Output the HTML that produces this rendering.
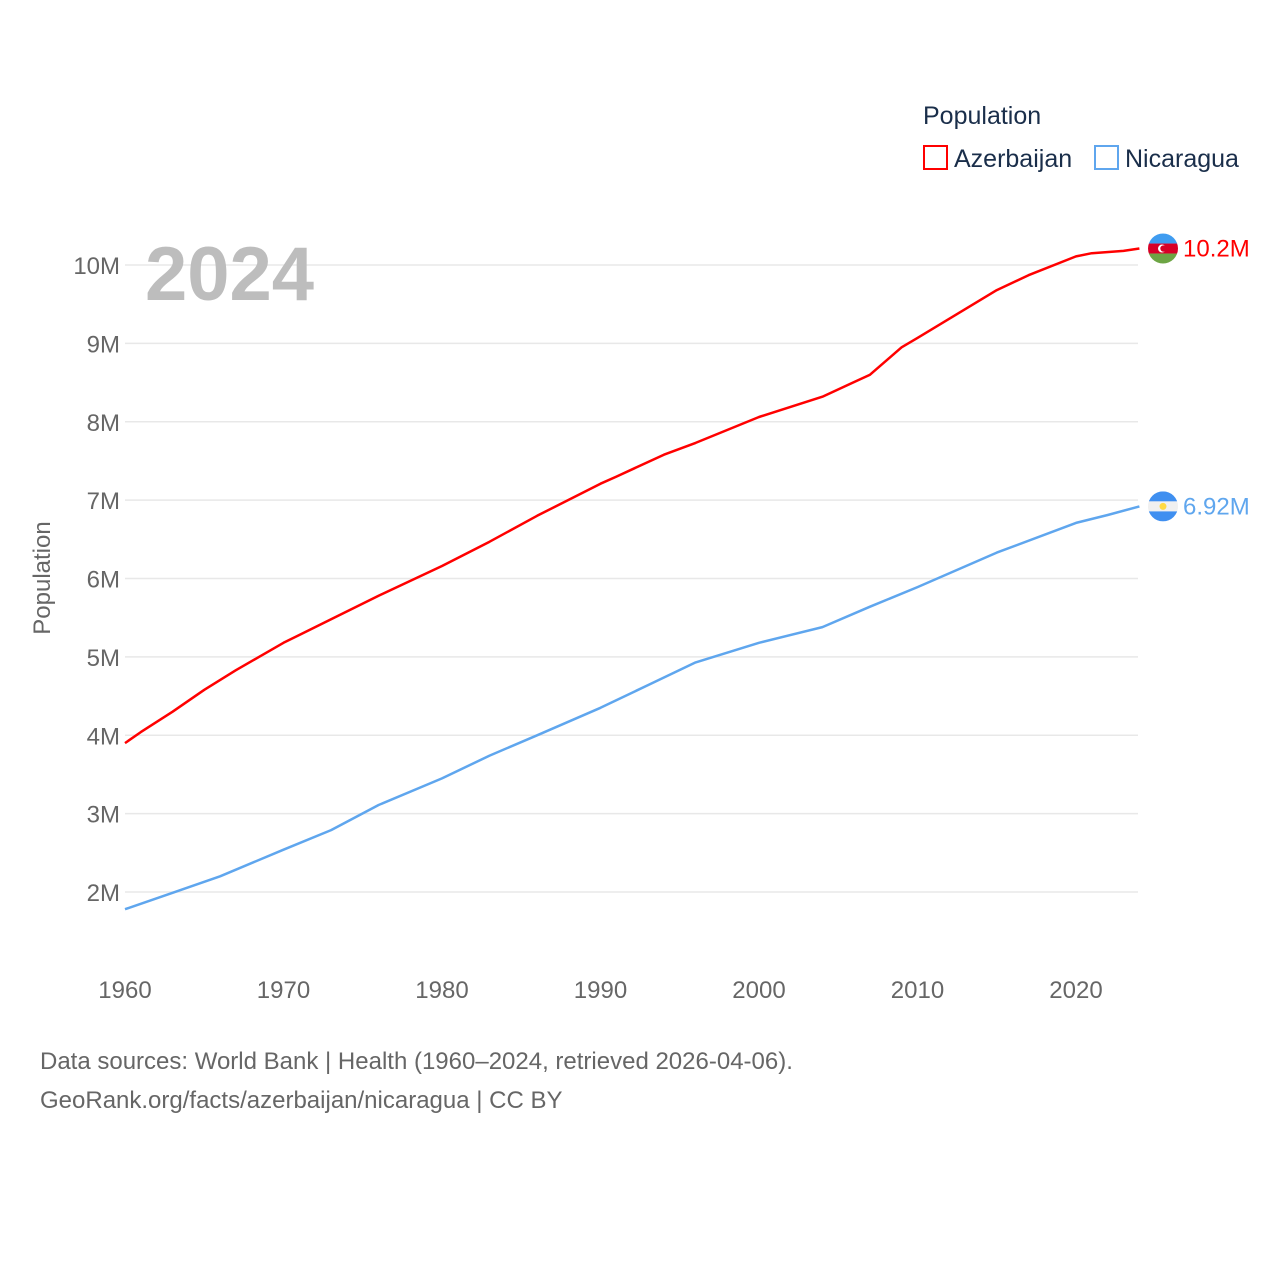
<!DOCTYPE html>
<html><head><meta charset="utf-8"><style>
body{margin:0;background:#fff;font-family:"Liberation Sans",sans-serif;}
svg text{font-family:"Liberation Sans",sans-serif;}
</style></head><body>
<svg id="chart" width="1280" height="1280" viewBox="0 0 1280 1280" xmlns="http://www.w3.org/2000/svg">
<g id="grid"></g>
<g id="yticks"></g>
<g id="xticks"></g>
<text x="145" y="300" font-size="76" font-weight="bold" fill="#bdbdbd">2024</text>
<text transform="translate(50,578) rotate(-90)" text-anchor="middle" font-size="24" fill="#666">Population</text>
<g id="series"></g>
<text x="923" y="124" font-size="25" fill="#1a2e4a">Population</text>
<g>
<rect x="924" y="146" width="23" height="23" fill="none" stroke="#ff0000" stroke-width="2"/>
<text x="954" y="167" font-size="25" fill="#1a2e4a">Azerbaijan</text></g>
<g>
<rect x="1095" y="146" width="23" height="23" fill="none" stroke="#5fa6ee" stroke-width="2"/>
<text x="1125" y="167" font-size="25" fill="#1a2e4a">Nicaragua</text></g>
<text x="40" y="1069" font-size="24" fill="#666">Data sources: World Bank | Health (1960–2024, retrieved 2026-04-06).</text>
<text x="40" y="1108" font-size="24" fill="#666">GeoRank.org/facts/azerbaijan/nicaragua | CC BY</text>
</svg>
<script>
const azYears=[1960,1961,1963,1965,1967,1970,1973,1976,1980,1983,1986,1990,1991,1994,1996,2000,2004,2007,2009,2010,2015,2017,2020,2021,2023,2024];
const azValues=[3.90,4.04,4.30,4.58,4.83,5.18,5.48,5.78,6.16,6.47,6.80,7.21,7.30,7.58,7.73,8.06,8.32,8.60,8.95,9.07,9.68,9.87,10.11,10.15,10.18,10.21];
const niYears=[1960,1963,1966,1970,1973,1976,1980,1983,1986,1990,1993,1996,2000,2004,2007,2010,2015,2020,2022,2024];
const niValues=[1.78,1.99,2.20,2.54,2.79,3.11,3.45,3.74,4.00,4.35,4.64,4.93,5.18,5.38,5.64,5.89,6.33,6.71,6.81,6.92];
const yTicks=[2,3,4,5,6,7,8,9,10];
const xTicks=[1960,1970,1980,1990,2000,2010,2020];
const NS="http://www.w3.org/2000/svg";
const xs=y=>125+(y-1960)*(1076-125)/60;
const ys=v=>892-(v-2)*(892-265)/8;
function mk(tag,attrs,parent){const e=document.createElementNS(NS,tag);for(const k in attrs)e.setAttribute(k,attrs[k]);parent.appendChild(e);return e;}
const grid=document.getElementById('grid'),yt=document.getElementById('yticks'),xt=document.getElementById('xticks'),se=document.getElementById('series');
yTicks.forEach(v=>{
 const l=mk('line',{x1:125,x2:1138,y1:ys(v),y2:ys(v),stroke:'#e8e8e8','stroke-width':1.5},grid);
 
 
 const t=mk('text',{x:120,y:ys(v)+9,'text-anchor':'end','font-size':24,fill:'#666'},yt);
 t.textContent=v+'M';
 
 
});
xTicks.forEach(y=>{
 const t=mk('text',{x:xs(y),y:998,'text-anchor':'middle','font-size':24,fill:'#666'},xt);
 t.textContent=y;
 
 
});
function line(years,vals,color,name){
 const d=years.map((y,i)=>(i?'L':'M')+xs(y).toFixed(1)+','+ys(vals[i]).toFixed(1)).join(' ');
 const p=mk('path',{d:d,fill:'none',stroke:color,'stroke-width':2.5,'stroke-linejoin':'round'},se);
 
 
}
line(azYears,azValues,'#ff0000','azerbaijan');
line(niYears,niValues,'#5fa6ee','nicaragua');
// end labels with flags
const az=ys(azValues[azValues.length-1]), ni=ys(niValues[niValues.length-1]);
const fa=mk('g',{},se);


mk('clipPath',{id:'c1'},fa).appendChild(document.createElementNS(NS,'circle'));
const c1=fa.querySelector('circle');c1.setAttribute('cx',1163);c1.setAttribute('cy',az);c1.setAttribute('r',15);
const ga=mk('g',{'clip-path':'url(#c1)'},fa);
mk('rect',{x:1148,y:az-15,width:30,height:10,fill:'#3f9cf0'},ga);
mk('rect',{x:1148,y:az-5,width:30,height:10,fill:'#d80027'},ga);
mk('rect',{x:1148,y:az+5,width:30,height:10,fill:'#6da544'},ga);
mk('circle',{cx:1162,cy:az,r:4,fill:'#fff'},ga);
mk('circle',{cx:1163.5,cy:az,r:3.2,fill:'#d80027'},ga);
const ta=mk('text',{x:1183,y:az+8,'font-size':24,fill:'#ff0000'},se);ta.textContent='10.2M';


const fn=mk('g',{},se);


mk('clipPath',{id:'c2'},fn).appendChild(document.createElementNS(NS,'circle'));
const c2=fn.querySelector('circle');c2.setAttribute('cx',1163);c2.setAttribute('cy',ni);c2.setAttribute('r',15);
const gn=mk('g',{'clip-path':'url(#c2)'},fn);
mk('rect',{x:1148,y:ni-15,width:30,height:10,fill:'#3f8ff0'},gn);
mk('rect',{x:1148,y:ni-5,width:30,height:10,fill:'#f0f0f0'},gn);
mk('rect',{x:1148,y:ni+5,width:30,height:10,fill:'#3f8ff0'},gn);
mk('circle',{cx:1163,cy:ni,r:3.5,fill:'#ffda44'},gn);
const tn=mk('text',{x:1183,y:ni+8,'font-size':24,fill:'#5fa6ee'},se);tn.textContent='6.92M';


</script>
</body></html>
